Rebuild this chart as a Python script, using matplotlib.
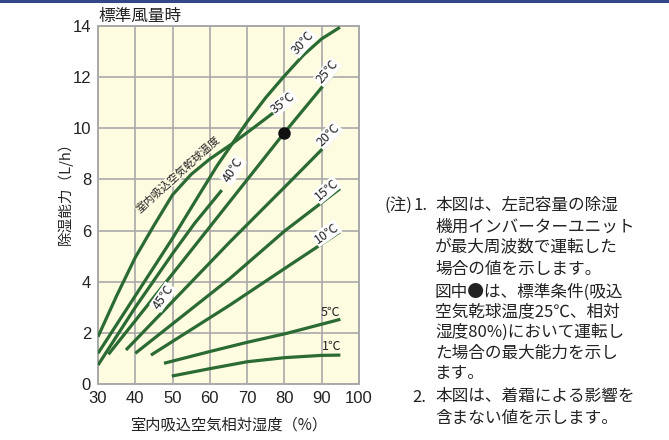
import matplotlib.pyplot as plt
from matplotlib.lines import Line2D

plt.rcParams['font.family'] = ['Noto Sans CJK JP', 'DejaVu Sans']

W, H = 669, 440

# dry-bulb temperature curves: relative humidity (%) vs capacity (L/h)
rh_35 = [30, 35, 40, 45, 50, 55, 60, 66, 72, 78.8]
cap_35 = [1.85, 3.45, 4.95, 6.2, 7.4, 8.2, 8.8, 9.4, 10.05, 10.8]

rh_30 = [30, 40, 46, 50, 56.5, 62, 66.3, 70, 75, 79.7, 85, 90, 94.9]
cap_30 = [1.2, 3.45, 4.8, 5.7, 7.25, 8.55, 9.46, 10.25, 11.2, 12.0, 12.85, 13.5, 13.95]

rh_40 = [30, 40, 50, 56, 63.2]
cap_40 = [0.74, 3.0, 5.1, 6.3, 7.58]

rh_25 = [32.8, 52.9, 80, 94.9]
cap_25 = [1.16, 4.84, 9.83, 12.46]

rh_20 = [37.5, 65.4, 81.9, 95.1]
cap_20 = [1.33, 5.56, 7.97, 9.92]

rh_15 = [40, 65.4, 80.1, 94.9]
cap_15 = [1.2, 4.13, 5.99, 7.64]

rh_10 = [44.2, 65.4, 80.1, 94.9]
cap_10 = [1.13, 3.09, 4.52, 5.95]

rh_5 = [47.7, 60, 70, 80.6, 95]
cap_5 = [0.81, 1.27, 1.63, 1.98, 2.53]

rh_1 = [49.8, 60, 70, 80, 90, 95]
cap_1 = [0.31, 0.6, 0.87, 1.03, 1.12, 1.13]

# standard condition point
std_rh, std_cap = 80, 9.83

# curve labels: text, x, y, rotation
labels = [
    ("30℃", 85.0, 13.33, 48),
    ("25℃", 91.5, 12.2, 50),
    ("35℃", 79.6, 11.0, 38),
    ("20℃", 91.8, 9.73, 45),
    ("15℃", 91.3, 7.58, 40),
    ("10℃", 91.3, 5.89, 35),
    ("5℃", 92.4, 2.8, 0),
    ("1℃", 92.6, 1.45, 0),
    ("40℃", 66.2, 8.36, 57),
    ("45℃", 47.5, 3.4, 55),
]

note_heads = [("(注)", 385, 205), ("1.", 413, 205), ("2.", 412, 397)]
note_lines = [
    "本図は、左記容量の除湿",
    "機用インバーターユニット",
    "が最大周波数で運転した",
    "場合の値を示します。",
    "図中●は、標準条件(吸込",
    "空気乾球温度25℃、相対",
    "湿度80%)において運転し",
    "た場合の最大能力を示し",
    "ます。",
    "本図は、着霜による影響を",
    "含まない値を示します。",
]
note_y = [205, 227, 248, 269, 292, 312, 332, 353, 373, 397, 418]

green = '#2b6b33'
grid_c = '#a9a9a9'
text_c = '#222222'

fig = plt.figure(figsize=(W / 100, H / 100), dpi=100)
ax = fig.add_axes([98 / W, 1 - 384 / H, 261 / W, 358 / H])
ax.set_facecolor('#fdfbe0')

for xs, ys in [(rh_35, cap_35), (rh_30, cap_30), (rh_40, cap_40), (rh_25, cap_25),
               (rh_20, cap_20), (rh_15, cap_15), (rh_10, cap_10), (rh_5, cap_5), (rh_1, cap_1)]:
    ax.plot(xs, ys, color=green, lw=2.3, solid_capstyle='butt', zorder=3)

ax.plot([std_rh], [std_cap], 'o', color='#111111', ms=8, zorder=5)

for txt, x, y, rot in labels:
    box = None if rot == 0 else dict(facecolor='white', edgecolor='none', pad=0.6)
    ax.text(x, y, txt, rotation=rot, ha='center', va='center', fontsize=9,
            color=text_c, bbox=box, zorder=4, rotation_mode='anchor')

ax.text(51.5, 8.2, "室内吸込空気乾球温度", rotation=42, ha='center', va='center',
        fontsize=7.8, color=text_c, rotation_mode='anchor', zorder=4,
        bbox=dict(facecolor='#fdfbe0', edgecolor='none', pad=0.3))

ax.set_xlim(30, 100)
ax.set_ylim(0, 14)
ax.set_xticks(range(30, 101, 10))
ax.set_yticks(range(0, 15, 2))
ax.grid(True, color=grid_c, lw=1.2)
ax.set_axisbelow(True)
for s in ax.spines.values():
    s.set_color(grid_c)
    s.set_linewidth(1.4)
ax.tick_params(length=0, labelsize=12, colors=text_c, pad=5)
for t in ax.get_xticklabels() + ax.get_yticklabels():
    t.set_family(['Liberation Sans', 'DejaVu Sans'])

fig.text(229 / W, 1 - 425 / H, "室内吸込空気相対湿度（%）", ha='center', va='center',
         fontsize=11, color=text_c)
fig.text(65 / W, 1 - 190 / H, "除湿能力（L/h）", rotation=90, ha='center', va='center',
         fontsize=10.5, color=text_c)
fig.text(98 / W, 1 - 16 / H, "標準風量時", ha='left', va='center', fontsize=12,
         color=text_c)

for head, x, y in note_heads:
    fig.text(x / W, 1 - y / H, head, ha='left', va='center', fontsize=12, color=text_c)
for body, y in zip(note_lines, note_y):
    fig.text(435 / W, 1 - y / H, body, ha='left', va='center', fontsize=12, color=text_c)

# dark rule along the top edge
fig.add_artist(Line2D([0, 1], [1 - 1 / H, 1 - 1 / H], color='#34478a', lw=2.2))

fig.savefig('out.png', dpi=100)
